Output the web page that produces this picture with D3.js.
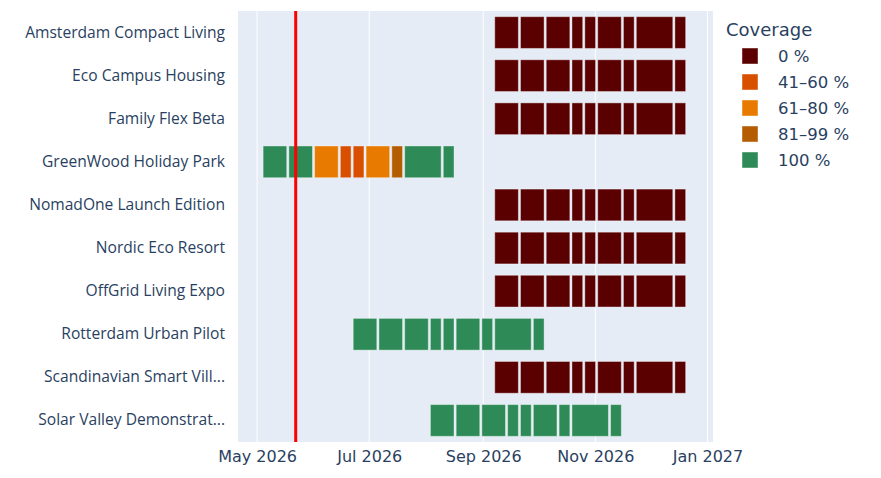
<!DOCTYPE html>
<html>
<head>
<meta charset="utf-8">
<script src="https://cdn.jsdelivr.net/npm/d3@7"></script>
<style>
  html, body { margin: 0; padding: 0; background: #fff; }
</style>
</head>
<body>
<div id="chart"></div>
<script>
// projects, top to bottom
const projects = [
    "Amsterdam Compact Living",
    "Eco Campus Housing",
    "Family Flex Beta",
    "GreenWood Holiday Park",
    "NomadOne Launch Edition",
    "Nordic Eco Resort",
    "OffGrid Living Expo",
    "Rotterdam Urban Pilot",
    "Scandinavian Smart Village",
    "Solar Valley Demonstration"
];
const projectStarts = [
    "2026-09-07", "2026-09-07", "2026-09-07", "2026-05-04", "2026-09-07",
    "2026-09-07", "2026-09-07", "2026-06-22", "2026-09-07", "2026-08-03"
];
// length of each phase in weeks (same plan for every project)
const phaseWeeks = [2, 2, 2, 1, 1, 2, 1, 3, 1];

const coverageLevels = ["0 %", "41–60 %", "61–80 %", "81–99 %", "100 %"];
const coverageColors = ["#5a0000", "#d94f00", "#e87a00", "#b35c00", "#2e8b57"];

const Z = "0 %", G = "100 %";
const coverage = [
    [Z, Z, Z, Z, Z, Z, Z, Z, Z],
    [Z, Z, Z, Z, Z, Z, Z, Z, Z],
    [Z, Z, Z, Z, Z, Z, Z, Z, Z],
    [G, G, "61–80 %", "41–60 %", "41–60 %", "61–80 %", "81–99 %", G, G],
    [Z, Z, Z, Z, Z, Z, Z, Z, Z],
    [Z, Z, Z, Z, Z, Z, Z, Z, Z],
    [Z, Z, Z, Z, Z, Z, Z, Z, Z],
    [G, G, G, G, G, G, G, G, G],
    [Z, Z, Z, Z, Z, Z, Z, Z, Z],
    [G, G, G, G, G, G, G, G, G]
];

const xTicks = ["2026-05-01", "2026-07-01", "2026-09-01", "2026-11-01", "2027-01-01"];
const todayDate = "2026-05-22";

const width = 881, height = 478;
const plot = { left: 238, right: 713, top: 11, bottom: 442 };

const svg = d3.select("#chart").append("svg")
    .attr("width", width)
    .attr("height", height);

const day = 864e5;
const x = d3.scaleUtc()
    .domain([new Date("2026-04-20T14:40:00Z"), new Date("2027-01-04T00:00:00Z")])
    .range([plot.left, plot.right]);

const y = d3.scaleBand()
    .domain(projects)
    .range([plot.top, plot.bottom])
    .paddingInner(0.24)
    .paddingOuter(0.12);

const color = d3.scaleOrdinal().domain(coverageLevels).range(coverageColors);

// background
svg.append("rect")
    .attr("x", plot.left).attr("y", plot.top)
    .attr("width", plot.right - plot.left)
    .attr("height", plot.bottom - plot.top)
    .attr("fill", "#e5ecf6");

// gridlines
svg.append("g").selectAll("line")
    .data(xTicks)
    .join("line")
    .attr("x1", d => x(new Date(d))).attr("x2", d => x(new Date(d)))
    .attr("y1", plot.top).attr("y2", plot.bottom)
    .attr("stroke", "#fff")
    .attr("stroke-width", 1);

// segments
const segments = [];
projects.forEach((p, i) => {
    let t = new Date(projectStarts[i] + "T00:00:00Z").getTime();
    phaseWeeks.forEach((w, j) => {
        const end = t + w * 7 * day;
        segments.push({ project: p, start: new Date(t), end: new Date(end), cov: coverage[i][j] });
        t = end;
    });
});

svg.append("g").selectAll("rect")
    .data(segments)
    .join("rect")
    .attr("x", d => x(d.start) + 0.5)
    .attr("y", d => y(d.project) + 0.5)
    .attr("width", d => x(d.end) - x(d.start) - 2.1)
    .attr("height", y.bandwidth() - 1)
    .attr("fill", d => color(d.cov))
    .attr("stroke", "rgba(255,255,255,0.4)")
    .attr("stroke-width", 1);

// today line
svg.append("line")
    .attr("x1", x(new Date(todayDate))).attr("x2", x(new Date(todayDate)))
    .attr("y1", plot.top).attr("y2", plot.bottom)
    .attr("stroke", "red")
    .attr("stroke-width", 3);

// x axis
const xAxis = svg.append("g")
    .attr("transform", `translate(0,${plot.bottom})`)
    .call(d3.axisBottom(x)
        .tickValues(xTicks.map(d => new Date(d)))
        .tickFormat(d3.utcFormat("%b %Y"))
        .tickSize(0)
        .tickPadding(5));
xAxis.select(".domain").remove();
xAxis.selectAll("text")
    .attr("font-family", "DejaVu Sans, Verdana, sans-serif")
    .attr("font-size", 16)
    .attr("fill", "#2a3f5f")
    .attr("dy", "0.95em");

// y axis
const shorten = s => s.length > 24 ? s.slice(0, 23) + "..." : s;
const yAxis = svg.append("g")
    .attr("transform", `translate(${plot.left},0)`)
    .call(d3.axisLeft(y).tickSize(0).tickPadding(13).tickFormat(shorten));
yAxis.select(".domain").remove();
yAxis.selectAll("text")
    .attr("font-family", "Open Sans, sans-serif")
    .attr("font-size", 15.6)
    .attr("fill", "#2a3f5f");

// legend
const legend = svg.append("g").attr("transform", "translate(726,0)");
legend.append("text")
    .attr("x", 0).attr("y", 36)
    .attr("font-family", "DejaVu Sans, Verdana, sans-serif")
    .attr("font-size", 18)
    .attr("fill", "#2a3f5f")
    .text("Coverage");

const items = legend.selectAll("g.item")
    .data(coverageLevels)
    .join("g")
    .attr("class", "item")
    .attr("transform", (d, i) => `translate(0,${56 + i * 26})`);
items.append("rect")
    .attr("x", 16).attr("y", -8)
    .attr("width", 16).attr("height", 16)
    .attr("fill", d => color(d))
    .attr("stroke", "rgba(255,255,255,0.45)")
    .attr("stroke-width", 1);
items.append("text")
    .attr("x", 52).attr("y", 0)
    .attr("dy", "0.35em")
    .attr("font-family", "DejaVu Sans, Verdana, sans-serif")
    .attr("font-size", 16.5)
    .attr("fill", "#2a3f5f")
    .text(d => d);
</script>
</body>
</html>
